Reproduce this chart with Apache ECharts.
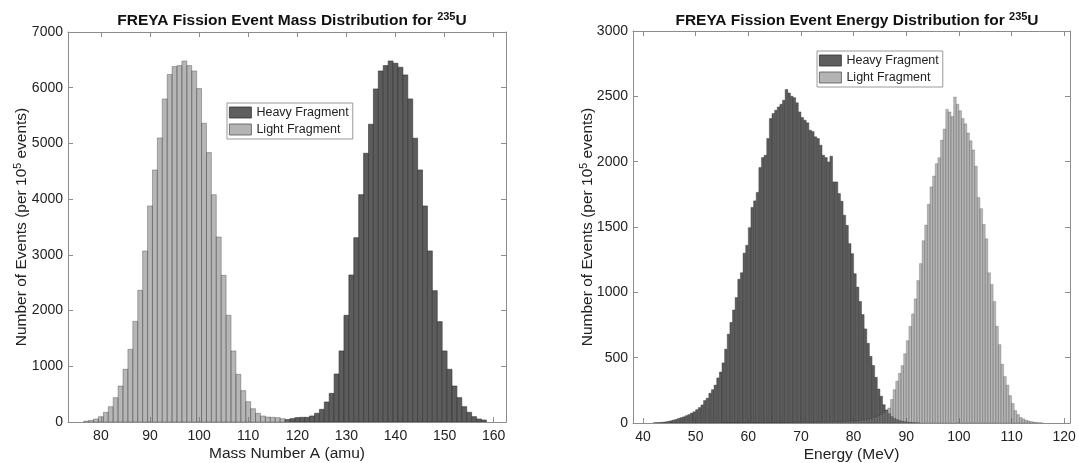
<!DOCTYPE html>
<html>
<head>
<meta charset="utf-8">
<script src="https://cdn.jsdelivr.net/npm/echarts@6/dist/echarts.min.js"></script>
<style>
html,body{margin:0;padding:0;background:#fff;}
#chart{width:1079px;height:463px;}
</style>
</head>
<body>
<div id="chart"></div>
<script>
// ---------- DATA ----------
// Mass distribution (bins of 1 amu, centred on integers)
const massLightFirst = 77;
const massLight = [15, 30, 55, 96, 174, 275, 437, 646, 946, 1305, 1807, 2364, 3070, 3878, 4524, 5099, 5799, 6236, 6379, 6397, 6480, 6397, 6301, 5984, 5362, 4835, 4081, 3321, 2633, 1915, 1275, 856, 563, 365, 239, 156, 108, 90, 84, 78, 60, 42];
const massHeavyFirst = 118;
const massHeavy = [42, 60, 78, 84, 84, 108, 156, 227, 359, 514, 862, 1275, 1915, 2639, 3309, 4081, 4823, 5344, 5978, 6301, 6397, 6480, 6439, 6367, 6230, 5799, 5093, 4524, 3878, 3070, 2358, 1801, 1275, 946, 646, 437, 275, 174, 96, 54, 36];
const massBinWidth = 1;
const massTicks = [80, 90, 100, 110, 120, 130, 140, 150, 160];

// Energy distribution (bins of 0.5 MeV, first value = left edge)
const energyBinWidth = 0.5;
const energyHeavyStart = 42.0;
const energyHeavy = [2, 3, 4, 6, 8, 12, 16, 22, 27, 34, 41, 47, 56, 64, 76, 86, 102, 118, 138, 172,
  190, 228, 255, 290, 345, 390, 460, 565, 680, 770, 865, 960, 1100, 1150, 1300, 1360, 1495, 1650, 1700, 1765,
  1955, 2031, 2049, 2177, 2330, 2368, 2394, 2419, 2440, 2470, 2552, 2526, 2501, 2490, 2450, 2381, 2338, 2317, 2297, 2241,
  2230, 2190, 2177, 2126, 2049, 2031, 1998, 2042, 1845, 1845, 1756, 1697, 1590, 1513, 1373, 1296, 1143, 1040, 930, 830,
  720, 610, 510, 440, 350, 260, 205, 140, 100, 72, 50, 36, 27, 20, 15, 11, 8, 5, 3, 2, 1];
const energyLightStart = 55.0;
const energyLight = [1, 1, 1, 1, 1, 2, 1, 2, 2, 2,
  2, 2, 3, 2, 3, 3, 3, 4, 3, 4,
  4, 4, 5, 4, 5, 5, 6, 5, 6, 6,
  6, 7, 7, 8, 7, 8, 9, 9, 10, 10,
  10, 11, 12, 11, 12, 13, 13, 14, 15, 15,
  15, 17, 20, 23, 26, 30, 33, 40, 46, 55,
  65, 80, 95, 115, 180, 255, 320, 380, 440, 530,
  630, 740, 835, 950, 1090, 1220, 1395, 1515, 1674, 1807,
  1890, 1985, 2030, 2165, 2250, 2400, 2380, 2345, 2495, 2440,
  2390, 2330, 2290, 2220, 2160, 2090, 1965, 1725, 1640, 1520,
  1410, 1150, 1060, 930, 740, 600, 450, 355, 290, 210,
  150, 95, 65, 42, 32, 22, 16, 11, 7, 4, 2, 1];
const energyTicks = [40, 50, 60, 70, 80, 90, 100, 110, 120];

// ---------- STYLE ----------
const FONT = '"Liberation Sans", Arial, Helvetica, sans-serif';
const TXT = '#222';
const LINE = '#8c8c8c';
const heavyFill = '#5c5c5c', heavyStroke = '#333333';
const lightFill = 'rgba(130,130,130,0.58)', lightStroke = 'rgba(40,40,40,0.55)';

function hist(name, axisIdx, firstEdge, width, values, fill, stroke, lw, z) {
  const data = values.map((v, i) => [firstEdge + i * width, v]);
  return {
    type: 'custom', name, xAxisIndex: axisIdx * 2, yAxisIndex: axisIdx * 2,
    data, encode: { x: 0, y: 1 }, clip: true, silent: true, z,
    itemStyle: { color: fill },
    renderItem: function (params, api) {
      const x0 = api.value(0), v = api.value(1);
      const p0 = api.coord([x0, 0]);
      const p1 = api.coord([x0 + width, v]);
      return {
        type: 'rect',
        shape: { x: p0[0], y: p1[1], width: p1[0] - p0[0], height: p0[1] - p1[1] },
        style: { fill: fill, stroke: stroke, lineWidth: lw }
      };
    }
  };
}

function xAxes(gridIndex, min, max, ticks, name) {
  return [{
    type: 'value', gridIndex, min, max, position: 'bottom',
    axisLine: { show: true, onZero: false, lineStyle: { color: LINE, width: 1 } },
    axisTick: { show: true, inside: true, length: 5, customValues: ticks, lineStyle: { color: LINE } },
    axisLabel: { customValues: ticks, color: TXT, fontSize: 14, fontFamily: FONT, margin: 7 },
    splitLine: { show: false },
    name, nameLocation: 'middle', nameGap: 24, nameMoveOverlap: false,
    nameTextStyle: { color: TXT, fontSize: 15.5, fontFamily: FONT }
  }, {
    type: 'value', gridIndex, min, max, position: 'top',
    axisLine: { show: true, onZero: false, lineStyle: { color: LINE, width: 1 } },
    axisTick: { show: true, inside: true, length: 5, customValues: ticks, lineStyle: { color: LINE } },
    axisLabel: { show: false }, splitLine: { show: false }
  }];
}

function yAxes(gridIndex, max, interval, gap) {
  return [{
    type: 'value', gridIndex, min: 0, max, interval, position: 'left',
    axisLine: { show: true, onZero: false, lineStyle: { color: LINE, width: 1 } },
    axisTick: { show: true, inside: true, length: 5, lineStyle: { color: LINE } },
    axisLabel: { color: TXT, fontSize: 14, fontFamily: FONT, margin: 5, formatter: v => String(v) },
    splitLine: { show: false },
    name: '{a|Number of Events (per 10}{s|5}{a| events)}',
    nameLocation: 'middle', nameGap: gap, nameRotate: 90, nameMoveOverlap: false,
    nameTextStyle: {
      color: TXT, fontFamily: FONT,
      rich: {
        a: { fontSize: 15.5, color: TXT, fontFamily: FONT, lineHeight: 17 },
        s: { fontSize: 10.5, color: TXT, fontFamily: FONT, verticalAlign: 'top', lineHeight: 17 }
      }
    }
  }, {
    type: 'value', gridIndex, min: 0, max, interval, position: 'right',
    axisLine: { show: true, onZero: false, lineStyle: { color: LINE, width: 1 } },
    axisTick: { show: true, inside: true, length: 5, lineStyle: { color: LINE } },
    axisLabel: { show: false }, splitLine: { show: false }
  }];
}

function title(text, cx) {
  return {
    text: '{t|' + text + '}{s|235}{t|U}',
    left: cx, top: 6, textAlign: 'center',
    textStyle: {
      rich: {
        t: { fontSize: 15.5, fontWeight: 'bold', color: '#111', fontFamily: FONT, lineHeight: 19 },
        s: { fontSize: 11, fontWeight: 'bold', color: '#111', fontFamily: FONT, verticalAlign: 'top', lineHeight: 19 }
      }
    }
  };
}

function legend(left, top) {
  return {
    left, top, orient: 'vertical', selectedMode: false,
    icon: 'rect', itemWidth: 22, itemHeight: 11, itemGap: 4,
    padding: [3, 4, 3, 2],
    borderColor: '#9a9a9a', borderWidth: 1, backgroundColor: '#fff',
    textStyle: { fontSize: 12.5, color: TXT, fontFamily: FONT, lineHeight: 12 },
    data: [
      { name: 'Heavy Fragment', itemStyle: { color: '#5e5e5e', borderColor: '#333', borderWidth: 0.8 } },
      { name: 'Light Fragment', itemStyle: { color: '#b4b4b4', borderColor: '#555', borderWidth: 0.8 } }
    ]
  };
}

const chart = echarts.init(document.getElementById('chart'), null, { renderer: 'canvas' });
chart.setOption({
  animation: false,
  backgroundColor: '#fff',
  title: [
    title('FREYA Fission Event Mass Distribution for ', 287),
    title('FREYA Fission Event Energy Distribution for ', 852)
  ],
  legend: [legend(227, 103), legend(817, 51)],
  grid: [
    { left: 68, top: 32, width: 438, height: 390, outerBoundsMode: 'none', containLabel: false },
    { left: 633, top: 31, width: 437, height: 392, outerBoundsMode: 'none', containLabel: false }
  ],
  xAxis: [].concat(
    xAxes(0, 73.3, 162.5, massTicks, 'Mass Number A (amu)'),
    xAxes(1, 38.1, 121.1, energyTicks, 'Energy (MeV)')
  ).map((a, i) => Object.assign(a, { gridIndex: i < 2 ? 0 : 1 })),
  yAxis: [].concat(
    yAxes(0, 7000, 1000, 38),
    yAxes(1, 3000, 500, 37)
  ).map((a, i) => Object.assign(a, { gridIndex: i < 2 ? 0 : 1 })),
  series: [
    hist('Heavy Fragment', 0, massHeavyFirst - massBinWidth / 2, massBinWidth, massHeavy, heavyFill, heavyStroke, 0.6, 2),
    hist('Light Fragment', 0, massLightFirst - massBinWidth / 2, massBinWidth, massLight, lightFill, lightStroke, 0.6, 3),
    hist('Heavy Fragment', 1, energyHeavyStart, energyBinWidth, energyHeavy, heavyFill, heavyStroke, 0.4, 2),
    hist('Light Fragment', 1, energyLightStart, energyBinWidth, energyLight, lightFill, lightStroke, 0.4, 3)
  ]
});
</script>
</body>
</html>
